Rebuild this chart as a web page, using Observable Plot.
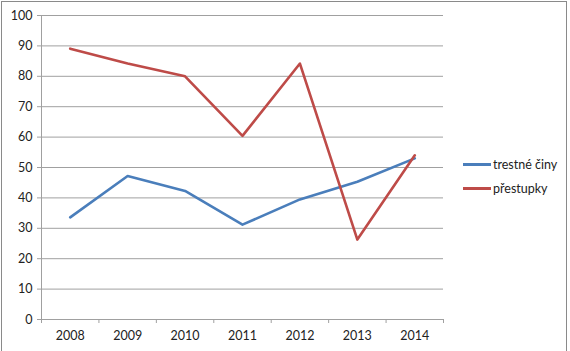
<!DOCTYPE html>
<html>
<head>
<meta charset="utf-8">
<script src="https://cdn.jsdelivr.net/npm/d3@7"></script>
<script src="https://cdn.jsdelivr.net/npm/@observablehq/plot@0.6"></script>
<style>
  body { margin: 0; background: #fff; }
  #wrap { position: relative; width: 570px; height: 351px; overflow: hidden; font-family: Lato, "Open Sans", sans-serif; }
  #border { position: absolute; left: 1px; top: 1px; width: 566px; height: 360px; border: 1.5px solid #8a8a8a; pointer-events: none; box-sizing: border-box; }
  .leg { position: absolute; left: 463px; font-size: 12.5px; color: #222; display: flex; align-items: center; }
  .leg span.sw { display: inline-block; width: 28px; height: 3px; margin-right: 2px; }
</style>
</head>
<body>
<div id="wrap"><div id="chart"></div><div id="legend"></div><div id="border"></div></div>
<script>
const years = [2008, 2009, 2010, 2011, 2012, 2013, 2014];
const trestne = [33.6, 47.2, 42.3, 31.2, 39.5, 45.3, 53];
const prestupky = [89.1, 84.2, 80, 60.4, 84.2, 26.3, 54];
const seriesNames = ["trestné činy", "přestupky"];
const colors = ["#4a7ebb", "#be4b48"];
const yTicks = d3.range(0, 101, 10);

const data = [
  ...years.map((y, i) => ({year: y, value: trestne[i], s: seriesNames[0]})),
  ...years.map((y, i) => ({year: y, value: prestupky[i], s: seriesNames[1]}))
];
const bounds = [...years.map(y => y - 0.5), years[years.length - 1] + 0.5];

const chart = Plot.plot({
  width: 570,
  height: 351,
  marginLeft: 41,
  marginRight: 127,
  marginTop: 15,
  marginBottom: 32,
  style: {fontFamily: "Lato, 'Open Sans', sans-serif", fontSize: "12.5px", color: "#222", background: "transparent"},
  x: {domain: [bounds[0], bounds[bounds.length - 1]]},
  y: {domain: [0, 100]},
  color: {domain: seriesNames, range: colors},
  marks: [
    Plot.gridY(yTicks.filter(t => t > 0), {stroke: "#a0a0a0", strokeOpacity: 1, strokeWidth: 1}),
    Plot.ruleX([bounds[0]], {y1: 0, y2: 100, stroke: "#a0a0a0"}),
    Plot.ruleY([0], {stroke: "#a0a0a0"}),
    Plot.axisY({ticks: yTicks, tickSize: 4, tickPadding: 5, label: null, stroke: "#a0a0a0", fill: "#222", fontSize: 12.5}),
    Plot.axisX({ticks: bounds, tickSize: 4, tickFormat: () => "", label: null, stroke: "#a0a0a0"}),
    Plot.axisX({ticks: years, tickSize: 0, tickPadding: 12, tickFormat: d => String(d), label: null, fill: "#222", fontSize: 12.5}),
    Plot.lineY(data, {x: "year", y: "value", z: "s", stroke: "s", strokeWidth: 2.6, strokeLinejoin: "round"})
  ]
});
document.getElementById("chart").appendChild(chart);

const legend = document.getElementById("legend");
const legendTops = [157, 181];
seriesNames.forEach((n, i) => {
  const d = document.createElement("div");
  d.className = "leg";
  d.style.top = legendTops[i] + "px";
  d.innerHTML = `<span class="sw" style="background:${colors[i]}"></span><span>${n}</span>`;
  legend.appendChild(d);
});
</script>
</body>
</html>
